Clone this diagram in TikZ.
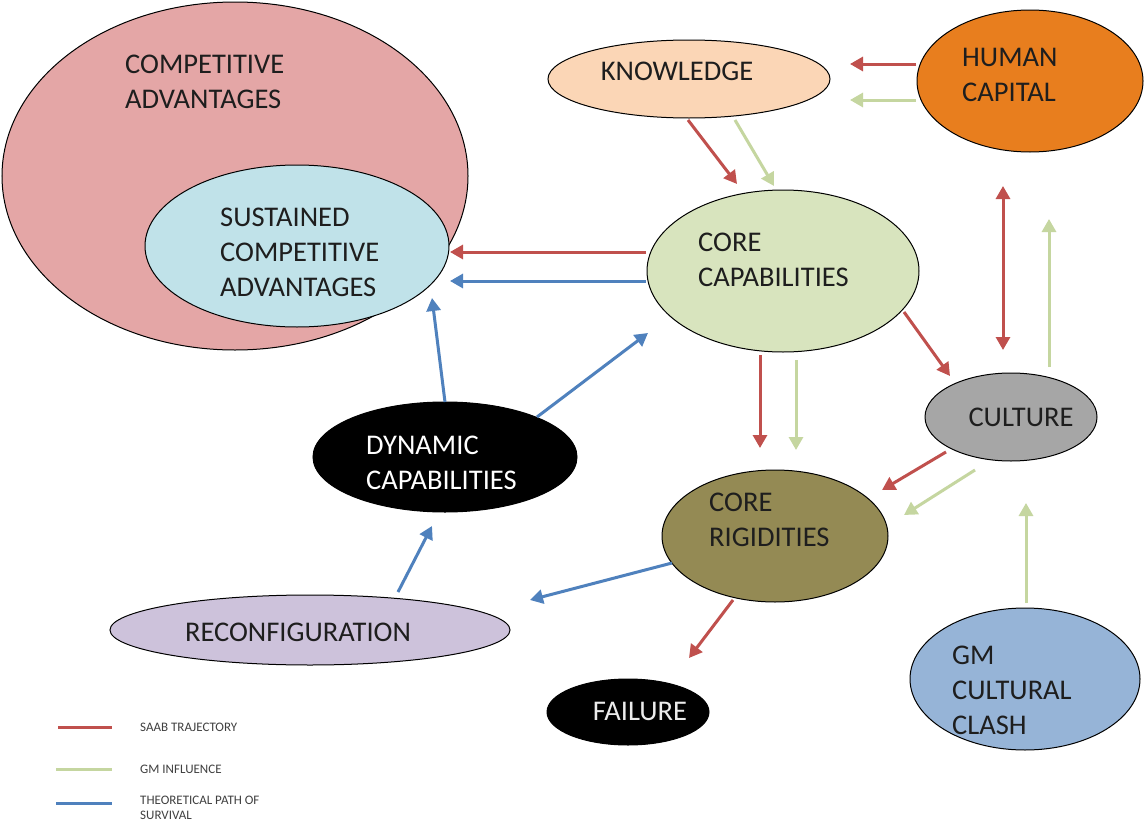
\documentclass[tikz,border=0pt]{standalone}
\usepackage{fontspec}
\setmainfont{Carlito}
\usetikzlibrary{shapes.geometric,arrows.meta}

\definecolor{saab}{RGB}{192,80,77}
\definecolor{gminf}{RGB}{197,214,160}
\definecolor{theo}{RGB}{79,129,189}
\definecolor{ink}{RGB}{30,30,30}

\tikzset{
  blob/.style={ellipse, draw=black, line width=1pt, inner sep=0pt},
  lbl/.style={font=\fontsize{28.5}{35}\selectfont, align=left, inner sep=0pt, text=ink},
  conn/.style={line width=3pt, -{Triangle[length=13pt,width=14pt]}},
  redarr/.style={conn, draw=saab, fill=saab},
  greenarr/.style={conn, draw=gminf, fill=gminf},
  bluearr/.style={conn, draw=theo, fill=theo},
  keyline/.style={line width=3pt},
  keytext/.style={font=\fontsize{13}{15}\selectfont, align=left, inner sep=0pt, text=black!75, anchor=west},
}

\begin{document}
\begin{tikzpicture}[x=1pt,y=-1pt]
\useasboundingbox[fill=white] (0,0) rectangle (1144,827);

% ellipses
\node[blob, fill={rgb,255:red,228;green,166;blue,166}, minimum width=466, minimum height=348] (ca) at (235,176) {};
\node[blob, fill={rgb,255:red,192;green,226;blue,233}, minimum width=304, minimum height=162] (sca) at (297,246) {};
\node[blob, fill={rgb,255:red,251;green,214;blue,182}, minimum width=282, minimum height=78] (kn) at (689,79) {};
\node[blob, fill={rgb,255:red,232;green,126;blue,30}, minimum width=226, minimum height=142] (hc) at (1030,81) {};
\node[blob, fill={rgb,255:red,216;green,228;blue,190}, minimum width=272, minimum height=162] (cc) at (783,271) {};
\node[blob, fill={rgb,255:red,166;green,166;blue,166}, minimum width=172, minimum height=88] (cu) at (1011,417) {};
\node[blob, fill=black, minimum width=264, minimum height=110] (dc) at (445,457) {};
\node[blob, fill={rgb,255:red,148;green,138;blue,84}, minimum width=226, minimum height=132] (cr) at (775,536) {};
\node[blob, fill={rgb,255:red,205;green,194;blue,219}, minimum width=400, minimum height=70] (rc) at (310,630) {};
\node[blob, fill=black, minimum width=162, minimum height=66] (fa) at (628,712) {};
\node[blob, fill={rgb,255:red,150;green,180;blue,215}, minimum width=230, minimum height=142] (gm) at (1025,679) {};

% labels
\node[lbl, anchor=west] (tca) at (125,82) {COMPETITIVE\\ADVANTAGES};
\node[lbl, anchor=west] (tsca) at (220,252) {SUSTAINED\\COMPETITIVE\\ADVANTAGES};
\node[lbl] (tkn) at (677,71) {KNOWLEDGE};
\node[lbl, anchor=west] (thc) at (962,75) {HUMAN\\CAPITAL};
\node[lbl, anchor=west] (tcc) at (698,260) {CORE\\CAPABILITIES};
\node[lbl] (tcu) at (1021,417) {CULTURE};
\node[lbl, anchor=west, text=white] (tdc) at (366,463) {DYNAMIC\\CAPABILITIES};
\node[lbl, anchor=west] (tcr) at (709,520) {CORE\\RIGIDITIES};
\node[lbl] (trc) at (298,632) {RECONFIGURATION};
\node[lbl, text=black!8] (tfa) at (640,711) {FAILURE};
\node[lbl, anchor=west] (tgm) at (952,690) {GM\\CULTURAL\\CLASH};

% connectors
\draw[redarr]   ([shift={(-114,-17)}]hc.center) -- ([shift={(161,-15)}]kn.center);
\draw[greenarr] ([shift={(-114,19)}]hc.center) -- ([shift={(161,21)}]kn.center);
\draw[redarr]   ([shift={(-1,41)}]kn.center) -- ([shift={(-46,-87)}]cc.center);
\draw[greenarr] ([shift={(46,41)}]kn.center) -- ([shift={(-9,-85)}]cc.center);
\draw[redarr]   ([shift={(-137,-19)}]cc.center) -- ([shift={(153,6)}]sca.center);
\draw[bluearr]  ([shift={(-137,10)}]cc.center) -- ([shift={(153,35)}]sca.center);
\draw[redarr]   ([shift={(121,41)}]cc.center) -- ([shift={(-61,-41)}]cu.center);
\draw[redarr, {Triangle[length=13pt,width=14pt]}-{Triangle[length=13pt,width=14pt]}]
                ([shift={(-27,105)}]hc.center) -- ([shift={(-8,-67)}]cu.center);
\draw[greenarr] ([shift={(38,-50)}]cu.center) -- ([shift={(19,138)}]hc.center);
\draw[redarr]   ([shift={(-23,84)}]cc.center) -- ([shift={(-15,-88)}]cr.center);
\draw[greenarr] ([shift={(13,89)}]cc.center) -- ([shift={(21,-86)}]cr.center);
\draw[redarr]   ([shift={(-65,35)}]cu.center) -- ([shift={(107,-46)}]cr.center);
\draw[greenarr] ([shift={(-36,53)}]cu.center) -- ([shift={(129,-21)}]cr.center);
\draw[greenarr] ([shift={(1,-76)}]gm.center) -- ([shift={(15,86)}]cu.center);
\draw[bluearr]  ([shift={(92,-40)}]dc.center) -- ([shift={(-135,62)}]cc.center);
\draw[bluearr]  ([shift={(0,-55)}]dc.center) -- ([shift={(135,52)}]sca.center);
\draw[bluearr]  ([shift={(88,-38)}]rc.center) -- ([shift={(-13,69)}]dc.center);
\draw[bluearr]  ([shift={(-103,27)}]cr.center) -- ([shift={(220,-30)}]rc.center);
\draw[redarr]   ([shift={(-42,64)}]cr.center) -- ([shift={(61,-54)}]fa.center);

% legend
\coordinate (k1a) at (58,727);  \coordinate (k1b) at (112,727);
\coordinate (k2a) at (56,769);  \coordinate (k2b) at (112,769);
\coordinate (k3a) at (56,803);  \coordinate (k3b) at (112,803);
\draw[keyline, saab]  (k1a) -- (k1b);
\draw[keyline, gminf] (k2a) -- (k2b);
\draw[keyline, theo]  (k3a) -- (k3b);
\node[keytext] (kt1) at (140,727) {SAAB TRAJECTORY};
\node[keytext] (kt2) at (140,769) {GM INFLUENCE};
\node[keytext, anchor=north west] (kt3) at (140,796) {THEORETICAL PATH OF\\SURVIVAL};
\end{tikzpicture}
\end{document}
